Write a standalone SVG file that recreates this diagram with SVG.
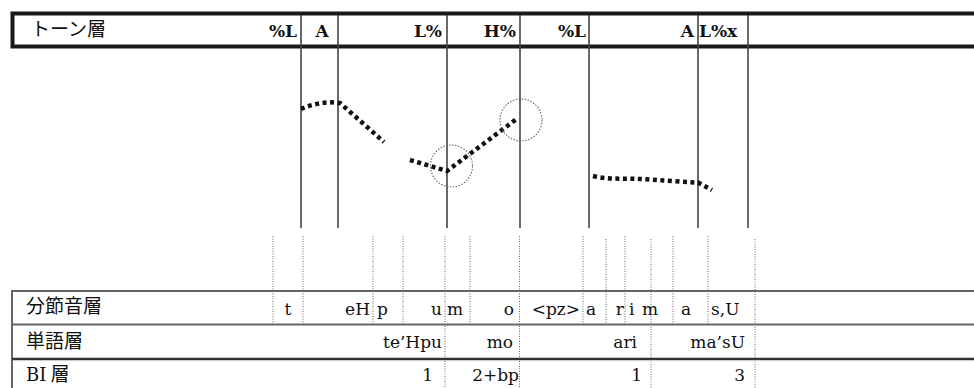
<svg xmlns="http://www.w3.org/2000/svg" width="974" height="388" viewBox="0 0 974 388">
<style>
.jp{font-family:"Noto Sans CJK JP","Noto Sans",sans-serif;font-size:19px;fill:#111}
.tn{font-family:"DejaVu Serif","Liberation Serif",serif;font-size:17px;font-weight:bold;fill:#111}
.tx{font-family:"DejaVu Serif","Liberation Serif",serif;font-size:17px;fill:#111}
.sr{font-family:"DejaVu Serif","Liberation Serif",serif;font-size:18px}
.e{text-anchor:end}
.m{text-anchor:middle}
.sol{stroke:#444;stroke-width:1.6;fill:none}
.dot{stroke:#666;stroke-width:1;stroke-dasharray:1 1.5;fill:none}
.f0{stroke:#111;stroke-width:4.5;stroke-dasharray:4 3.5;fill:none}
.circ{stroke:#666;stroke-width:1.1;stroke-dasharray:1.5 1.5;fill:none}
.tier{stroke:#666;stroke-width:2;fill:none}
</style>
<rect width="974" height="388" fill="#fff"/>
<g id="tone-tier">
<path d="M980,13.5 H12.5 V46.5 H980" stroke="#1a1a1a" stroke-width="4" fill="none"/>
<text class="jp" x="31" y="36">トーン層</text>
<text class="tn e" x="297" y="37">%L</text>
<text class="tn m" x="322" y="37">A</text>
<text class="tn e" x="442" y="37">L%</text>
<text class="tn e" x="516" y="37">H%</text>
<text class="tn e" x="586" y="37">%L</text>
<text class="tn e" x="694" y="37">A</text>
<text class="tn" x="699" y="37">L%x</text>
</g>
<g id="connectors">
<path class="sol" d="M301,15V228M338,15V228M447,15V228M520,15V228M589,15V228M698,15V228M748,15V228"/>
<path class="dot" d="M273,236V324M303,236V324M373,236V324M403,236V324M445,236V388M470,236V324M519.5,236V388M583,236V324M606,239V324M625,236V324M651,239V388M673,236V324M708,236V324M755,239V388"/>
</g>
<g id="f0-contour">
<path class="f0" d="M301,109 C312,104 326,101 340,103 L384,142"/>
<path class="f0" d="M410,160 L447,171 L518,118"/>
<path class="f0" d="M593,176 C610,180 625,178 640,179 C660,180 680,182 698,182.5 L712,190"/>
<circle class="circ" cx="451.5" cy="166" r="21"/>
<circle class="circ" cx="521" cy="120" r="21"/>
</g>
<g id="segment-tier">
<path class="tier" d="M974,291 H12 V388"/>
<text class="jp" x="26" y="313">分節音層</text>
<text class="tx m" x="288" y="315">t</text>
<text class="tx e" x="370" y="315">eH</text>
<text class="tx" x="377" y="315">p</text>
<text class="tx e" x="442" y="315">u</text>
<text class="tx" x="447" y="315">m</text>
<text class="tx e" x="514" y="315">o</text>
<text class="tx e" x="580" y="315">&lt;pz&gt;</text>
<text class="tx" x="586" y="315">a</text>
<text class="tx e" x="624" y="315">r</text>
<text class="tx" x="629" y="315">i</text>
<text class="tx" x="642" y="315">m</text>
<text class="tx m" x="686" y="315">a</text>
<text class="tx" x="711" y="315">s,U</text>
</g>
<g id="word-tier">
<path class="tier" d="M12,324.5 H974"/>
<text class="jp" x="26" y="348">単語層</text>
<text class="tx e" x="442" y="348">te’Hpu</text>
<text class="tx e" x="513" y="348">mo</text>
<text class="tx e" x="637" y="348">ari</text>
<text class="tx e" x="745" y="348">ma’sU</text>
</g>
<g id="bi-tier">
<path d="M12,359 H974" stroke="#333" stroke-width="2.5" fill="none"/>
<text class="jp" x="26" y="381"><tspan class="sr">BI</tspan> 層</text>
<text class="tx e" x="433" y="381">1</text>
<text class="tx e" x="519" y="381">2+bp</text>
<text class="tx e" x="642" y="381">1</text>
<text class="tx e" x="745" y="381">3</text>
</g>
</svg>
